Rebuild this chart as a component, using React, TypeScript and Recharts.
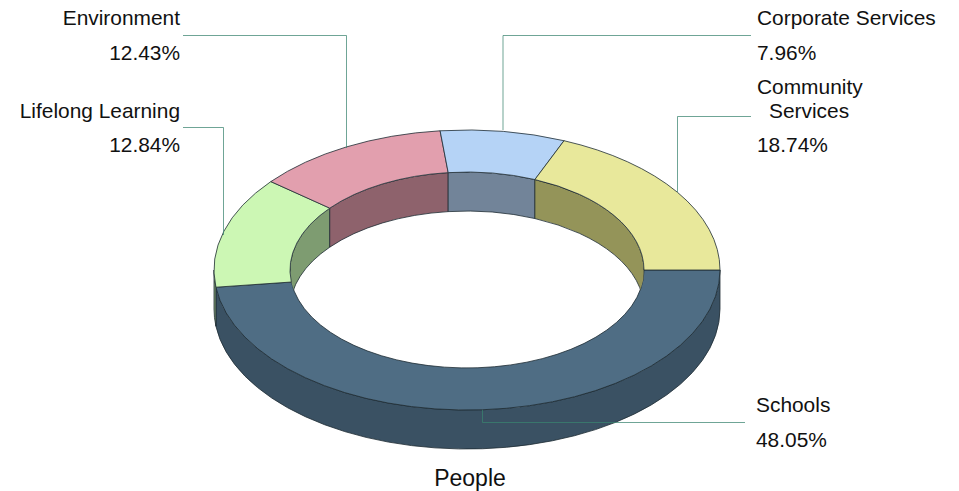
import React from "react";
import { PieChart, Pie } from "recharts";

const categories = ["Schools", "Lifelong Learning", "Environment", "Corporate Services", "Community Services"];
const shares = [48.05, 12.84, 12.43, 7.96, 18.74];
const chartTitle = "People";

const topColors = ["#4F6D84", "#CCF7B4", "#E29FAE", "#B5D3F6", "#E8E89B"];
const wallColors = ["#3A5163", "#7E9C71", "#8E626C", "#728499", "#949459"];

const FONT = "'Liberation Sans', Arial, sans-serif";
const LEADER = "#3A836F";
const TILT = 140 / 253;
const DEPTH = 39;
const WIDTH = 959;
const HEIGHT = 491;

type Line = { text: string; x: number; y: number; anchor: string };
const callouts: { leader: string; lines: Line[] }[] = [
  {
    leader: "745,422.5 482.5,422.5 482.5,410",
    lines: [
      { text: "Schools", x: 756, y: 412, anchor: "start" },
      { text: "%", x: 756, y: 447, anchor: "start" },
    ],
  },
  {
    leader: "183,127.5 223.5,127.5 223.5,235",
    lines: [
      { text: "Lifelong Learning", x: 180, y: 118, anchor: "end" },
      { text: "%", x: 180, y: 152, anchor: "end" },
    ],
  },
  {
    leader: "183,35.5 346.5,35.5 346.5,148",
    lines: [
      { text: "Environment", x: 180, y: 25, anchor: "end" },
      { text: "%", x: 180, y: 60, anchor: "end" },
    ],
  },
  {
    leader: "751,35.5 503,35.5 503,130",
    lines: [
      { text: "Corporate Services", x: 757, y: 25, anchor: "start" },
      { text: "%", x: 757, y: 60, anchor: "start" },
    ],
  },
  {
    leader: "751,116.5 677.5,116.5 677.5,192",
    lines: [
      { text: "Community", x: 757, y: 94, anchor: "start" },
      { text: "Services", x: 769, y: 118, anchor: "start" },
      { text: "%", x: 757, y: 152, anchor: "start" },
    ],
  },
];

const rows = categories.map((name, i) => ({ name, value: shares[i], fill: topColors[i], wall: wallColors[i] }));

const point = (cx: number, cy: number, r: number, deg: number, dy = 0) => {
  const a = (deg * Math.PI) / 180;
  return `${cx + r * Math.cos(a)} ${cy + r * TILT * Math.sin(a) + dy}`;
};
const arc = (r: number, from: number, to: number, end: string) => {
  const ry = r * TILT;
  const large = Math.abs(to - from) > 180 ? 1 : 0;
  const sweep = to > from ? 1 : 0;
  return `A ${r} ${ry} 0 ${large} ${sweep} ${end}`;
};

function Slice3D(props: any) {
  const { cx, cy, innerRadius: ri, outerRadius: ro, startAngle, endAngle, fill, payload } = props;
  const t0 = Math.min(-startAngle, -endAngle);
  const t1 = Math.max(-startAngle, -endAngle);
  const wall = payload?.wall ?? props.wall;
  const name = String(payload?.name ?? props.name).replace(/\s/g, "");
  const edge = { stroke: "#1E2C34", strokeWidth: 0.8, strokeLinejoin: "round" as const };

  const oa = Math.max(t0, 0);
  const ob = Math.min(t1, 180);
  const outer =
    ob > oa
      ? `M ${point(cx, cy, ro, oa)} ${arc(ro, oa, ob, point(cx, cy, ro, ob))} L ${point(cx, cy, ro, ob, DEPTH)} ${arc(ro, ob, oa, point(cx, cy, ro, oa, DEPTH))} Z`
      : null;

  const ia = Math.max(t0, 180);
  const ib = Math.min(t1, 360);
  const inner =
    ib > ia
      ? `M ${point(cx, cy, ri, ia)} ${arc(ri, ia, ib, point(cx, cy, ri, ib))} L ${point(cx, cy, ri, ib, DEPTH)} ${arc(ri, ib, ia, point(cx, cy, ri, ia, DEPTH))} Z`
      : null;

  const top = `M ${point(cx, cy, ro, t0)} ${arc(ro, t0, t1, point(cx, cy, ro, t1))} L ${point(cx, cy, ri, t1)} ${arc(ri, t1, t0, point(cx, cy, ri, t0))} Z`;

  const clipId = `hole-${name}`;
  return (
    <g>
      <clipPath id={clipId}>
        <ellipse cx={cx} cy={cy} rx={ri} ry={ri * TILT} />
      </clipPath>
      {outer && <path d={outer} fill={wall} {...edge} />}
      {inner && <path d={inner} fill={wall} clipPath={`url(#${clipId})`} {...edge} />}
      <path d={top} fill={fill} {...edge} />
    </g>
  );
}

function Callout(props: any) {
  const c = callouts[props.index];
  if (!c) return null;
  const value = shares[props.index];
  return (
    <g>
      <polyline points={c.leader} fill="none" stroke={LEADER} strokeOpacity={0.73} strokeWidth={1} />
      {c.lines.map((l) => (
        <text key={l.text} x={l.x} y={l.y} textAnchor={l.anchor} fontFamily={FONT} fontSize={20.9} fill="#111">
          {l.text === "%" ? `${value.toFixed(2)}%` : l.text}
        </text>
      ))}
    </g>
  );
}

export default function App() {
  return (
    <div style={{ position: "absolute", left: 0, top: 0, width: WIDTH, height: HEIGHT, background: "#fff" }}>
      <PieChart width={WIDTH} height={HEIGHT} margin={{ top: 0, right: 0, bottom: 0, left: 0 }}>
        <Pie
          data={rows}
          dataKey="value"
          nameKey="name"
          cx={467}
          cy={270}
          innerRadius={177}
          outerRadius={253}
          startAngle={0}
          endAngle={-360}
          stroke="none"
          shape={Slice3D}
          label={Callout}
          labelLine={false}
          isAnimationActive={false}
        />
        <text x={470} y={486} textAnchor="middle" fontFamily={FONT} fontSize={23} fill="#111">
          {chartTitle}
        </text>
      </PieChart>
    </div>
  );
}
